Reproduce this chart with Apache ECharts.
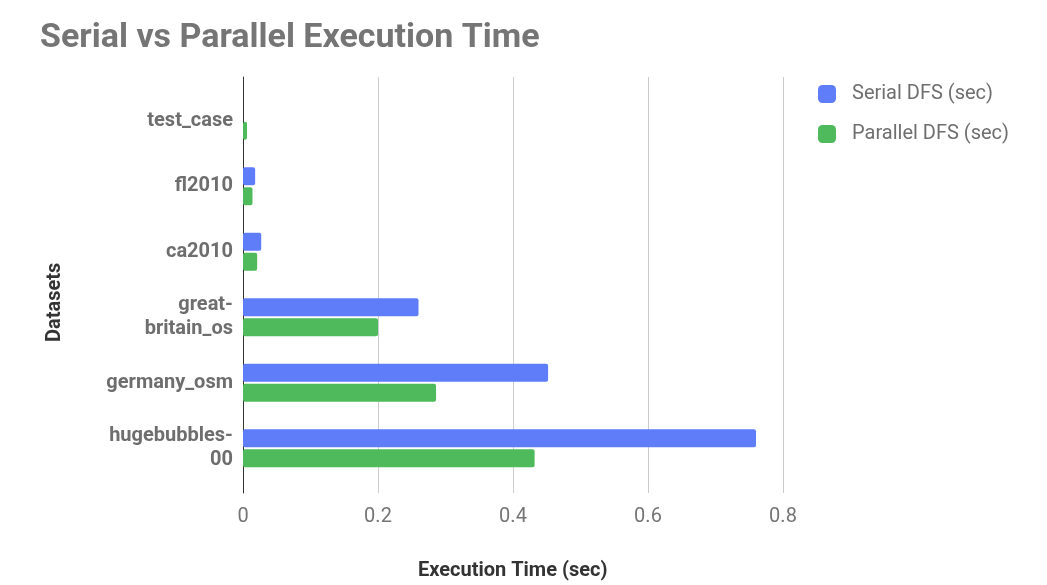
<!DOCTYPE html>
<html>
<head>
<meta charset="utf-8">
<title>Serial vs Parallel Execution Time</title>
<script src="https://cdn.jsdelivr.net/npm/echarts@6/dist/echarts.min.js"></script>
<style>
  html, body { margin: 0; padding: 0; background: #ffffff; }
  #chart { width: 1047px; height: 585px; }
</style>
</head>
<body>
<div id="chart"></div>
<script>
// Datasets, listed top to bottom
var datasets = ['test_case', 'fl2010', 'ca2010', 'great-\nbritain_os', 'germany_osm', 'hugebubbles-\n00'];
// Execution times in seconds
var serialDFS = [0, 0.018, 0.027, 0.26, 0.452, 0.76];
var parallelDFS = [0.006, 0.014, 0.021, 0.2, 0.286, 0.432];
// Value axis
var xMin = 0;
var xMax = 0.8;
var xStep = 0.2;

var FONT = 'Roboto, "Noto Sans", "DejaVu Sans", sans-serif';
var BLUE = '#5f7cf9';
var GREEN = '#4eba5c';

var chart = echarts.init(document.getElementById('chart'), null, { renderer: 'canvas' });

chart.setOption({
  backgroundColor: '#ffffff',
  animation: false,
  textStyle: { fontFamily: FONT },
  title: {
    text: 'Serial vs Parallel Execution Time',
    left: 35,
    top: 16,
    textStyle: { fontFamily: FONT, fontSize: 34, fontWeight: 'bold', color: '#757575' }
  },
  legend: {
    orient: 'vertical',
    left: 818,
    top: 84,
    padding: 0,
    itemWidth: 18,
    itemHeight: 18,
    itemGap: 20,
    icon: 'roundRect',
    textStyle: { fontFamily: FONT, fontSize: 20, color: '#6f6f6f', padding: [0, 0, 0, 11] },
    data: ['Serial DFS (sec)', 'Parallel DFS (sec)']
  },
  grid: [
    // frame: gridlines, zero line and tick labels
    { left: 243, right: 264, top: 77, bottom: 92 },
    // bars
    { left: 243, right: 264, top: 88, bottom: 104 }
  ],
  xAxis: [
    {
      type: 'value', gridIndex: 0, min: xMin, max: xMax, interval: xStep,
      axisLine: { show: false },
      axisTick: { show: false },
      splitLine: { show: true, lineStyle: { color: '#cccccc', width: 1 } },
      axisLabel: {
        margin: 14, fontSize: 20, color: '#757575', fontFamily: FONT,
        formatter: function (v) { return String(Math.round(v * 10) / 10); }
      }
    },
    {
      type: 'value', gridIndex: 1, min: xMin, max: xMax, interval: xStep, show: false
    }
  ],
  yAxis: [
    {
      type: 'value', gridIndex: 0, min: 0, max: 1,
      axisLine: { show: true, lineStyle: { color: '#333333', width: 1 } },
      axisTick: { show: false },
      axisLabel: { show: false },
      splitLine: { show: false }
    },
    {
      type: 'category', gridIndex: 1, inverse: true, data: datasets,
      axisLine: { show: false },
      axisTick: { show: false },
      splitLine: { show: false },
      axisLabel: {
        margin: 10, fontSize: 20, fontWeight: 'bold', color: '#6e6e6e',
        fontFamily: FONT, lineHeight: 24, align: 'right', padding: [6, 0, 0, 0]
      }
    }
  ],
  graphic: [
    {
      type: 'text', left: 418, top: 561,
      style: { text: 'Execution Time (sec)', font: 'bold 20px ' + FONT, fill: '#333333' }
    },
    {
      type: 'text', x: 45, y: 342, rotation: Math.PI / 2,
      style: { text: 'Datasets', font: 'bold 20px ' + FONT, fill: '#333333' }
    }
  ],
  series: [
    {
      name: 'Serial DFS (sec)', type: 'bar', xAxisIndex: 1, yAxisIndex: 1,
      data: serialDFS, barWidth: 18, barGap: '12%',
      itemStyle: { color: BLUE, borderRadius: 2 }
    },
    {
      name: 'Parallel DFS (sec)', type: 'bar', xAxisIndex: 1, yAxisIndex: 1,
      data: parallelDFS, barWidth: 18, barGap: '12%',
      itemStyle: { color: GREEN, borderRadius: 2 }
    }
  ]
});
</script>
</body>
</html>
